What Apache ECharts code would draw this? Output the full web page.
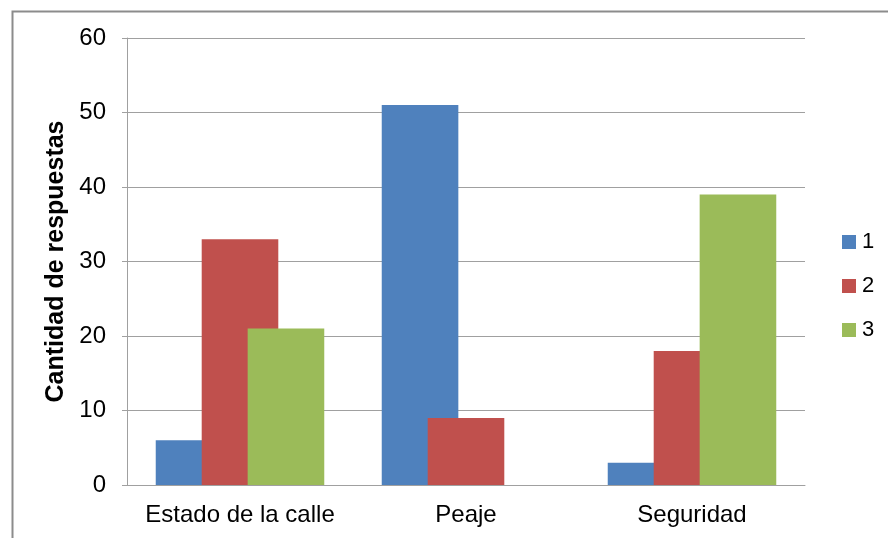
<!DOCTYPE html>
<html>
<head>
<meta charset="utf-8">
<script src="https://cdn.jsdelivr.net/npm/echarts@6/dist/echarts.min.js"></script>
<style>
html,body{margin:0;padding:0;background:#fff;}
#chart{width:888px;height:538px;}
</style>
</head>
<body>
<div id="chart"></div>
<script>
var categories = ['Estado de la calle', 'Peaje', 'Seguridad'];
var seriesNames = ['1', '2', '3'];
var values1 = [6, 51, 3];
var values2 = [33, 9, 18];
var values3 = [21, 0, 39];
var colors = ['#4F81BD', '#C0504D', '#9BBB59'];
var allValues = [values1, values2, values3];

var chart = echarts.init(document.getElementById('chart'), null, {renderer: 'canvas'});
var font = 'Liberation Sans, Arial, sans-serif';
var series = seriesNames.map(function (n, i) {
  return {
    name: n,
    type: 'bar',
    data: allValues[i],
    barWidth: 76.6,
    barGap: '-40%',
    itemStyle: {color: colors[i]},
    emphasis: {disabled: true},
    animation: false
  };
});

chart.setOption({
  animation: false,
  backgroundColor: '#fff',
  graphic: [{
    type: 'rect',
    shape: {x: 12.5, y: 11.5, width: 900, height: 600},
    style: {fill: 'none', stroke: '#8c8c8c', lineWidth: 2},
    silent: true, z: -1
  }],
  grid: {left: 127, top: 38, right: 83, bottom: 53, containLabel: false},
  legend: {
    orient: 'vertical',
    left: 837,
    top: 226,
    itemWidth: 14,
    itemHeight: 14,
    itemGap: 22,
    icon: 'rect',
    textStyle: {fontFamily: font, fontSize: 22, color: '#000', padding: [0, 0, 0, 1]},
    data: seriesNames
  },
  xAxis: {
    type: 'category',
    data: categories,
    axisLine: {show: true, lineStyle: {color: '#a0a0a0', width: 1}},
    axisTick: {show: false},
    axisLabel: {fontFamily: font, fontSize: 24, color: '#000', margin: 18, interval: 0}
  },
  yAxis: {
    type: 'value',
    min: 0,
    max: 60,
    interval: 10,
    name: 'Cantidad de respuestas',
    nameLocation: 'middle',
    nameGap: 51,
    nameTextStyle: {fontFamily: font, fontSize: 25, fontWeight: 'bold', color: '#000'},
    axisLine: {show: true, lineStyle: {color: '#a0a0a0', width: 1}},
    axisTick: {show: true, length: 5, lineStyle: {color: '#a0a0a0'}},
    axisLabel: {fontFamily: font, fontSize: 24, color: '#000', margin: 21},
    splitLine: {show: true, lineStyle: {color: '#a0a0a0', width: 1}}
  },
  series: series
});
</script>
</body>
</html>
